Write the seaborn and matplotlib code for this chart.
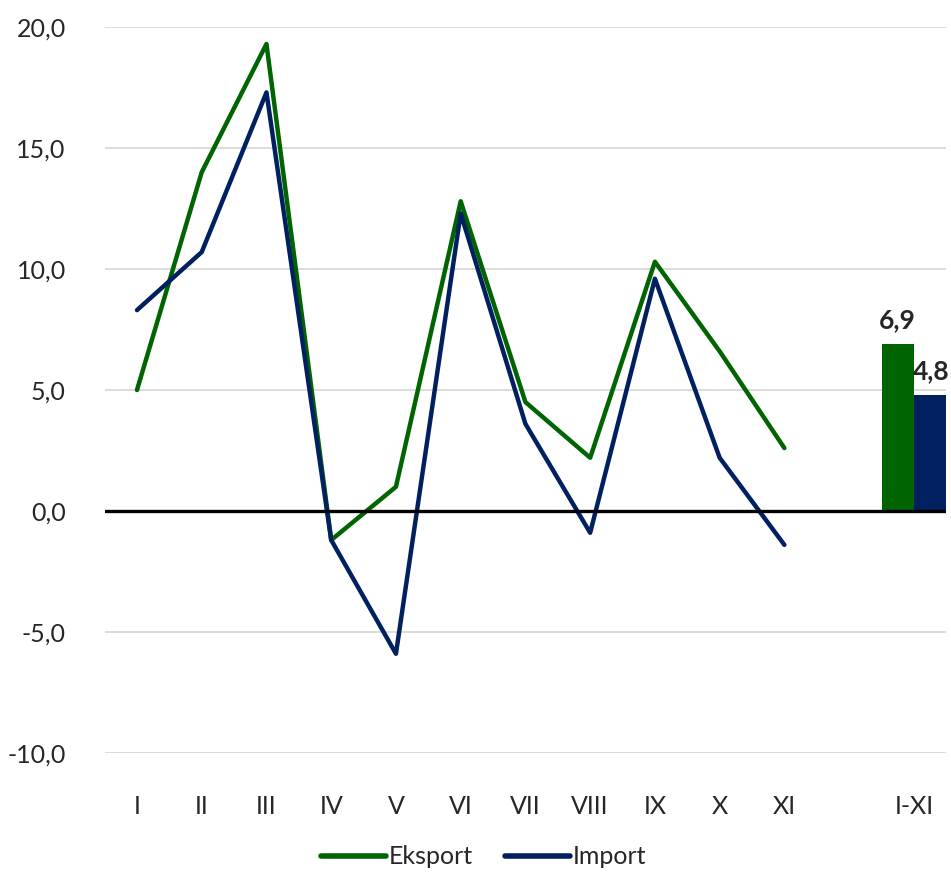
import seaborn as sns
import matplotlib.pyplot as plt
import matplotlib.ticker as ticker
import pandas as pd

sns.set_style("white")
plt.rcParams["font.family"] = ["Lato", "DejaVu Sans"]
plt.rcParams["font.size"] = 18

# monthly y/y change, %
months = ["I", "II", "III", "IV", "V", "VI", "VII", "VIII", "IX", "X", "XI"]
eksport = [5.0, 14.0, 19.3, -1.2, 1.0, 12.8, 4.5, 2.2, 10.3, 6.6, 2.6]
imports = [8.3, 10.7, 17.3, -1.2, -5.9, 12.3, 3.6, -0.9, 9.6, 2.2, -1.4]
total_label = "I-XI"
total_eksport = 6.9
total_import = 4.8

green = "#006400"
navy = "#002060"

pos = list(range(len(months)))
total_pos = len(months) + 1

df = pd.DataFrame({
    "pos": pos * 2,
    "val": eksport + imports,
    "serie": ["Eksport"] * len(months) + ["Import"] * len(months),
})

fig = plt.figure(figsize=(9.51, 8.72), dpi=100)
ax = fig.add_axes([0.110, 0.1365, 0.885, 0.8325])

sns.lineplot(data=df, x="pos", y="val", hue="serie", palette=[green, navy],
             linewidth=3.2, ax=ax, legend=True)

ax.bar(total_pos - 0.25, total_eksport, width=0.5, color=green, linewidth=0, zorder=3)
ax.bar(total_pos + 0.25, total_import, width=0.5, color=navy, linewidth=0, zorder=3)
ax.text(total_pos - 0.25, total_eksport + 0.5, f"{total_eksport:.1f}".replace(".", ","),
        ha="center", va="bottom", fontweight="bold", fontsize=19, clip_on=False)
ax.text(total_pos + 0.27, total_import + 0.5, f"{total_import:.1f}".replace(".", ","),
        ha="center", va="bottom", fontweight="bold", fontsize=19, clip_on=False)

ax.axhline(0, color="black", linewidth=2.4, zorder=4)

ax.set_ylim(-10, 20)
ax.set_xlim(-0.5, total_pos + 0.5)
ax.yaxis.set_major_locator(ticker.MultipleLocator(5))
ax.yaxis.set_major_formatter(ticker.FuncFormatter(lambda v, p: f"{v:.1f}".replace(".", ",")))
ax.set_xticks(pos + [total_pos])
ax.set_xticklabels(months + [total_label])
ax.grid(True, axis="y", color="#d9d9d9", linewidth=1.3)
ax.set_axisbelow(True)
ax.tick_params(axis="x", length=0, labelsize=18, pad=30)
ax.tick_params(axis="y", length=0, labelsize=18, pad=28)
ax.set_xlabel("")
ax.set_ylabel("")
for s in ax.spines.values():
    s.set_visible(False)

leg = ax.legend(loc="lower center", bbox_to_anchor=(0.45, -0.19), ncol=2, frameon=False,
                handlelength=2.6, handletextpad=0.1, columnspacing=1.3, fontsize=18)
for h in leg.get_lines():
    h.set_linewidth(4)
    h.set_solid_capstyle("round")

plt.savefig("out.png", dpi=100)
